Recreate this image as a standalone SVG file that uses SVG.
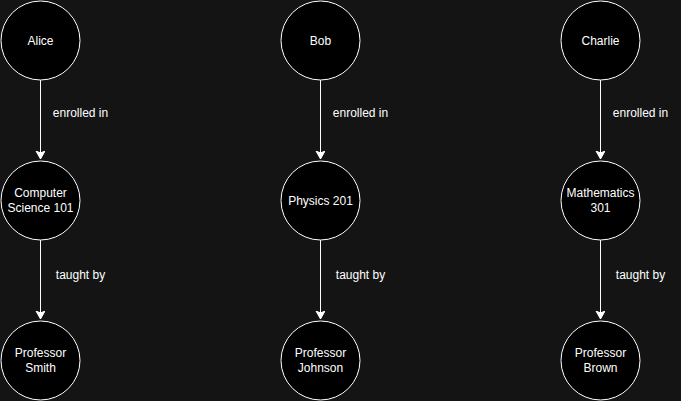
<svg xmlns="http://www.w3.org/2000/svg" width="681" height="401" viewBox="0 0 681 401">
<defs>
<marker id="arr" markerWidth="10" markerHeight="10" refX="8" refY="4.5" orient="auto" markerUnits="userSpaceOnUse">
<path d="M0,0 L8,4.5 L0,9 L2,4.5 Z" fill="#ffffff" stroke="#ffffff" stroke-width="1"/>
</marker>
<style>
.n{fill:#000000;stroke:#ffffff;stroke-width:1}
.t{font-family:"Liberation Sans",Arial,sans-serif;font-size:12px;fill:#ffffff;text-anchor:middle}
.l{font-family:"Liberation Sans",Arial,sans-serif;font-size:12px;fill:#ffffff;text-anchor:middle}
.e{stroke:#ffffff;stroke-width:1;fill:none}
</style>
</defs>
<rect x="0" y="0" width="681" height="401" fill="#141414"/>
<g id="connectors">
<path class="e" d="M40.5,80 L40.5,159" marker-end="url(#arr)"/>
<path class="e" d="M40.5,240 L40.5,319" marker-end="url(#arr)"/>
<path class="e" d="M320.5,80 L320.5,159" marker-end="url(#arr)"/>
<path class="e" d="M320.5,240 L320.5,319" marker-end="url(#arr)"/>
<path class="e" d="M600.5,80 L600.5,159" marker-end="url(#arr)"/>
<path class="e" d="M600.5,240 L600.5,319" marker-end="url(#arr)"/>
<text class="l" x="80.5" y="117">enrolled in</text>
<text class="l" x="80.5" y="279">taught by</text>
<text class="l" x="360.5" y="117">enrolled in</text>
<text class="l" x="360.5" y="279">taught by</text>
<text class="l" x="640.5" y="117">enrolled in</text>
<text class="l" x="640.5" y="279">taught by</text>
</g>
<g id="alice"><circle class="n" cx="40.5" cy="40.5" r="39.5"/><text class="t" x="40.5" y="44.5">Alice</text></g>
<g id="bob"><circle class="n" cx="320.5" cy="40.5" r="39.5"/><text class="t" x="320.5" y="44.5">Bob</text></g>
<g id="charlie"><circle class="n" cx="600.5" cy="40.5" r="39.5"/><text class="t" x="600.5" y="44.5">Charlie</text></g>
<g id="cs101"><circle class="n" cx="40.5" cy="200.5" r="39.5"/><text class="t" x="40.5" y="197">Computer</text><text class="t" x="40.5" y="212">Science 101</text></g>
<g id="physics201"><circle class="n" cx="320.5" cy="200.5" r="39.5"/><text class="t" x="320.5" y="204.5">Physics 201</text></g>
<g id="math301"><circle class="n" cx="600.5" cy="200.5" r="39.5"/><text class="t" x="600.5" y="197">Mathematics</text><text class="t" x="600.5" y="212">301</text></g>
<g id="smith"><circle class="n" cx="40.5" cy="360.5" r="39.5"/><text class="t" x="40.5" y="357">Professor</text><text class="t" x="40.5" y="372">Smith</text></g>
<g id="johnson"><circle class="n" cx="320.5" cy="360.5" r="39.5"/><text class="t" x="320.5" y="357">Professor</text><text class="t" x="320.5" y="372">Johnson</text></g>
<g id="brown"><circle class="n" cx="600.5" cy="360.5" r="39.5"/><text class="t" x="600.5" y="357">Professor</text><text class="t" x="600.5" y="372">Brown</text></g>
</svg>
